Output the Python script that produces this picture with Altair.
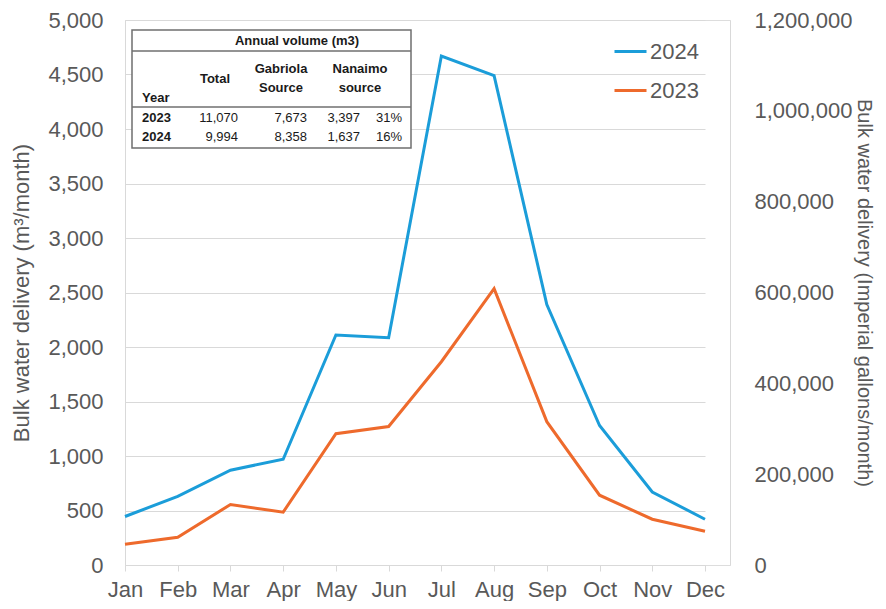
import altair as alt
import pandas as pd

# ---------------- data ----------------
months = ["Jan", "Feb", "Mar", "Apr", "May", "Jun", "Jul", "Aug", "Sep", "Oct", "Nov", "Dec"]
vol_2024 = [445, 630, 870, 970, 2110, 2085, 4670, 4490, 2390, 1280, 670, 420]
vol_2023 = [190, 255, 555, 485, 1205, 1270, 1865, 2535, 1315, 640, 420, 310]
series_names = ["2024", "2023"]
left_ticks = list(range(0, 5001, 500))
right_ticks = list(range(0, 1200001, 200000))

table_title = "Annual volume (m3)"
table_years = ["2023", "2024"]
table_total = ["11,070", "9,994"]
table_gabriola = ["7,673", "8,358"]
table_nanaimo = ["3,397", "1,637"]
table_pct = ["31%", "16%"]

# ---------------- style ----------------
FONT = "Liberation Sans"
GREY = "#595959"
LIGHT = "#d9d9d9"
BLUE = "#1B9DD9"
ORANGE = "#EE6A2C"
TXT = "#1a1a1a"

df = pd.DataFrame({
    "Month": months * 2,
    "Year": ["2024"] * 12 + ["2023"] * 12,
    "Volume": vol_2024 + vol_2023,
})

x_enc = alt.X(
    "Month:N", sort=months,
    scale=alt.Scale(type="point", range=[0, 580], padding=0),
    axis=alt.Axis(title=None, labelFontSize=22, labelColor=GREY, labelFont=FONT,
                  labelAngle=0, tickColor=LIGHT, tickSize=6, labelPadding=8,
                  domain=False, grid=False),
)

lines = alt.Chart(df).mark_line(strokeWidth=3).encode(
    x=x_enc,
    y=alt.Y("Volume:Q",
            scale=alt.Scale(domain=[0, 5000], nice=False),
            axis=alt.Axis(title="Bulk water delivery (m³/month)", values=left_ticks,
                          format=",.0f", labelFontSize=22, labelColor=GREY, labelFont=FONT,
                          titleFontSize=22, titleColor=GREY, titleFont=FONT,
                          titleFontWeight="normal", titlePadding=14,
                          ticks=False, labelPadding=22, domainColor=LIGHT,
                          grid=True, gridColor=LIGHT, gridWidth=1)),
    color=alt.Color("Year:N",
                    scale=alt.Scale(domain=series_names, range=[BLUE, ORANGE]),
                    legend=alt.Legend(title=None, orient="none", legendX=488, legendY=14,
                                      symbolType="stroke", symbolSize=1024,
                                      symbolStrokeWidth=3, labelFontSize=22,
                                      labelColor=GREY, labelFont=FONT, labelOffset=2,
                                      rowPadding=10, padding=0)),
    detail="Year:N",
)

gal_df = pd.DataFrame({"Month": [months[0], months[0]], "Gallons": [right_ticks[0], right_ticks[-1]]})
right_axis = alt.Chart(gal_df).mark_point(opacity=0).encode(
    x=alt.X("Month:N", sort=months),
    y=alt.Y("Gallons:Q",
            scale=alt.Scale(domain=[right_ticks[0], right_ticks[-1]], nice=False),
            axis=alt.Axis(orient="right", title="Bulk water delivery (Imperial gallons/month)",
                          values=right_ticks, format=",.0f", labelFontSize=22,
                          labelColor=GREY, labelFont=FONT, titleFontSize=20,
                          titleColor=GREY, titleFont=FONT, titleFontWeight="normal",
                          titlePadding=2, ticks=False, labelPadding=24,
                          domainColor=LIGHT, grid=False)),
)

# ---------------- inset table ----------------
one = pd.DataFrame({"a": [0]})
box = alt.Chart(one).mark_rect(fill="white", stroke="#6f6f6f", strokeWidth=1.5).encode(
    x=alt.value(7), x2=alt.value(286), y=alt.value(10), y2=alt.value(128))
rule1 = alt.Chart(one).mark_rule(color="#6f6f6f", strokeWidth=1.5).encode(
    x=alt.value(7), x2=alt.value(286), y=alt.value(31))
rule2 = alt.Chart(one).mark_rule(color="#6f6f6f", strokeWidth=1.5).encode(
    x=alt.value(7), x2=alt.value(286), y=alt.value(87))


def cell(text, x, y, align="center", bold=False):
    return alt.Chart(pd.DataFrame({"t": [text]})).mark_text(
        align=align, baseline="middle", fontSize=13, font=FONT,
        fontWeight="bold" if bold else "normal", color=TXT,
    ).encode(x=alt.value(x), y=alt.value(y), text="t:N")


cells = [
    cell(table_title, 172, 21, bold=True),
    cell("Total", 90, 59, bold=True),
    cell("Gabriola", 156, 49, bold=True),
    cell("Source", 156, 68, bold=True),
    cell("Nanaimo", 235, 49, bold=True),
    cell("source", 235, 68, bold=True),
    cell("Year", 17, 78, align="left", bold=True),
]
row_y = [98, 117]
for i in range(2):
    cells += [
        cell(table_years[i], 17, row_y[i], align="left", bold=True),
        cell(table_total[i], 113, row_y[i], align="right"),
        cell(table_gabriola[i], 182, row_y[i], align="right"),
        cell(table_nanaimo[i], 235, row_y[i], align="right"),
        cell(table_pct[i], 277, row_y[i], align="right"),
    ]

chart = alt.layer(lines, right_axis, box, rule1, rule2, *cells).resolve_scale(
    y="independent"
).properties(
    width=605, height=545,
    autosize=alt.AutoSizeParams(type="none"),
    padding={"left": 117, "top": 12, "right": 148, "bottom": 36},
).configure_view(stroke=None).configure(background="white")

chart.save("out.html", embed_options={"renderer": "svg", "actions": False})
